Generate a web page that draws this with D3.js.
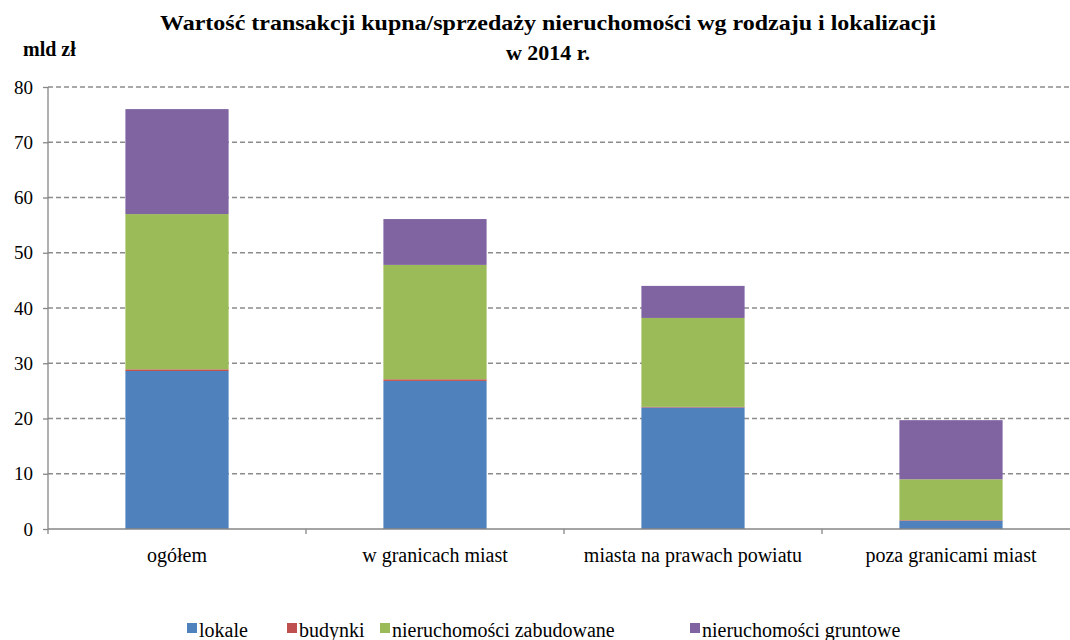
<!DOCTYPE html>
<html><head><meta charset="utf-8">
<script src="https://cdn.jsdelivr.net/npm/d3@7"></script>
<style>body{margin:0;background:#fff}svg{display:block}</style>
</head><body>
<svg id="c" width="1070" height="640"></svg>
<script>
const categories = ["ogółem","w granicach miast","miasta na prawach powiatu","poza granicami miast"];
const seriesNames = ["lokale","budynki","nieruchomości zabudowane","nieruchomości gruntowe"];
const lokale = [28.6, 26.8, 22.0, 1.5];
const budynki = [0.3, 0.3, 0.1, 0.1];
const zabudowane = [28.1, 20.7, 16.1, 7.4];
const gruntowe = [19.0, 8.3, 5.8, 10.7];
const yTicks = [0,10,20,30,40,50,60,70,80];
const colors = ["#4F81BD","#C0504D","#9BBB59","#8064A2"];

const svg = d3.select("#c");
const font = '"Liberation Serif","DejaVu Serif","Times New Roman",serif';
const x = d3.scaleBand().domain(categories).range([48,1080]).paddingInner(0.6).paddingOuter(0.3);
const y = d3.scaleLinear().domain([0,80]).range([529,87]);

const rows = categories.map((c,i)=>({cat:c, lokale:lokale[i], budynki:budynki[i], zab:zabudowane[i], grun:gruntowe[i]}));
const keys = ["lokale","budynki","zab","grun"];
const stacked = d3.stack().keys(keys)(rows);

// gridlines
svg.append("g").selectAll("line").data(yTicks.filter(t=>t>0)).join("line")
  .attr("x1",48).attr("x2",1080).attr("y1",d=>y(d)).attr("y2",d=>y(d))
  .attr("stroke","#8c8c8c").attr("stroke-width",1.3).attr("stroke-dasharray","5,3");

// bars
svg.append("g").selectAll("g").data(stacked).join("g").attr("fill",(d,i)=>colors[i])
  .selectAll("rect").data(d=>d).join("rect")
  .attr("x",d=>x(d.data.cat)).attr("width",x.bandwidth())
  .attr("y",d=>y(d[1])).attr("height",d=>y(d[0])-y(d[1]));

// y axis
const ya = svg.append("g").attr("transform","translate(48,0)")
  .call(d3.axisLeft(y).tickValues(yTicks).tickSize(5).tickPadding(10).tickFormat(d3.format("d")));
ya.attr("font-family",null).attr("font-size",null);
ya.select(".domain").attr("stroke","#868686").attr("stroke-width",1.3).attr("d","M0,87V529");
ya.selectAll(".tick line").attr("stroke","#868686").attr("stroke-width",1.3);
ya.selectAll("text").style("font-family",font).style("font-size","19px").attr("fill","#000");

// x axis
svg.append("line").attr("x1",48).attr("x2",1080).attr("y1",y(0)).attr("y2",y(0)).attr("stroke","#868686").attr("stroke-width",1.5);
const edges = d3.range(categories.length+1).map(i=>48 + i*x.step());
svg.append("g").selectAll("line").data(edges).join("line")
  .attr("x1",d=>d).attr("x2",d=>d).attr("y1",y(0)).attr("y2",y(0)+5).attr("stroke","#868686").attr("stroke-width",1.3);
svg.append("g").selectAll("text").data(categories).join("text")
  .attr("x",d=>x(d)+x.bandwidth()/2).attr("y",562).attr("text-anchor","middle")
  .style("font-family",font).style("font-size","20px").text(d=>d);

// title
svg.append("text").attr("x",548).attr("y",30).attr("text-anchor","middle")
  .style("font-family",font).style("font-weight","bold").style("font-size","22px")
  .attr("textLength",776).attr("lengthAdjust","spacingAndGlyphs")
  .text("Wartość transakcji kupna/sprzedaży nieruchomości wg rodzaju i lokalizacji");
svg.append("text").attr("x",548).attr("y",60).attr("text-anchor","middle")
  .style("font-family",font).style("font-weight","bold").style("font-size","22px")
  .text("w 2014 r.");
svg.append("text").attr("x",23).attr("y",56)
  .style("font-family",font).style("font-weight","bold").style("font-size","20px").text("mld zł");

// legend
const legX = [187, 287, 380, 690];
const lg = svg.append("g").selectAll("g").data(seriesNames).join("g")
  .attr("transform",(d,i)=>`translate(${legX[i]},0)`);
lg.append("rect").attr("x",0).attr("y",623).attr("width",10).attr("height",10).attr("fill",(d,i)=>colors[i]);
lg.append("text").attr("x",12).attr("y",637).style("font-family",font).style("font-size","20px").text(d=>d);
</script>
</body></html>
